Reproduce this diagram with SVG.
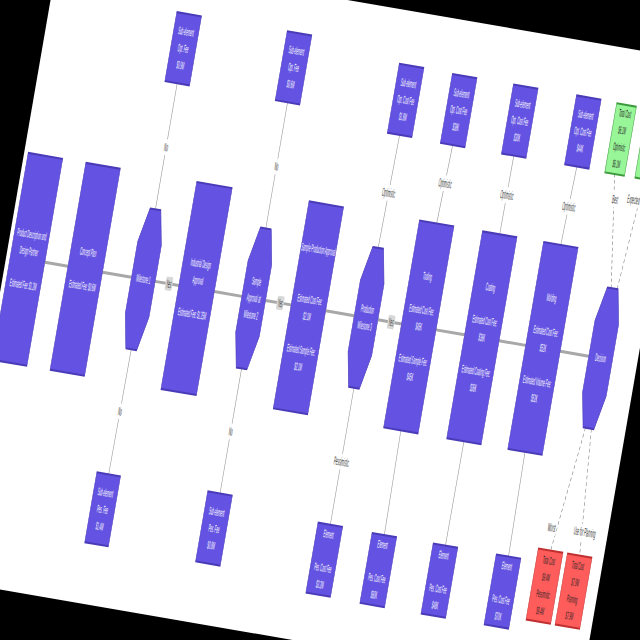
<svg xmlns="http://www.w3.org/2000/svg" width="640" height="640" viewBox="0 0 640 640">
<style>
.p{fill:#6453e2;stroke:#4a3bb8;stroke-width:2}
.g{fill:#98f598;stroke:#3c9a3c;stroke-width:2}
.r{fill:#ff5c5c;stroke:#c03030;stroke-width:2}
text{font-family:"Liberation Sans",Arial,sans-serif;font-size:11px;text-anchor:middle;dominant-baseline:central}
.w{fill:#ffffff}
.k{fill:#222222}
.lt{fill:#333333;font-size:12px}
.lb{fill:#ffffff;opacity:0.9}
.lm{fill:#d8d8d8}
.main{stroke:#a8a8a8;stroke-width:3;fill:none}
.thin{stroke:#9a9a9a;stroke-width:2.4;fill:none}
.dash{stroke:#8a8a8a;stroke-width:2.4;fill:none;stroke-dasharray:4 3}
</style>
<rect width="640" height="640" fill="#000"/>
<g transform="rotate(9.8 320 320)">
<rect width="640" height="640" fill="#fff"/>
<g transform="scale(0.25 1)">
<g id="connectors">
<path class="main" d="M156,310H250M390,310H508M604,310H700M844,310H956M1052,310H1156M1296,310H1412M1508,310H1604M1744,310H1860M2000,310H2108M2248,310H2364"/>
<path class="thin" d="M556,111V239M556,381L552,508M1004,111V239M1004,381V508M1468,124L1460,239M1460,381V520M1684,125L1674,205M1674,415L1680,521M1932,125L1930,205M1930,415L1928,521M2188,125L2178,205M2178,415L2184,521"/>
<path class="dash" d="M2406,239L2342,126M2430,239L2464,126M2400,381L2346,508M2424,381L2464,508"/>
<g id="edge-labels">
<rect class="lm" x="646" y="303" width="28" height="14" rx="4"/><text class="lt" x="660" y="310">Yes</text>
<rect class="lm" x="1098" y="303" width="28" height="14" rx="4"/><text class="lt" x="1112" y="310">Yes</text>
<rect class="lm" x="1548" y="303" width="28" height="14" rx="4"/><text class="lt" x="1562" y="310">Yes</text>
<rect class="lb" x="542" y="168" width="28" height="16"/><text class="lt" x="556" y="176">No</text>
<rect class="lb" x="990" y="168" width="28" height="16"/><text class="lt" x="1004" y="176">No</text>
<rect class="lb" x="540" y="436" width="28" height="16"/><text class="lt" x="554" y="444">No</text>
<rect class="lb" x="990" y="437" width="28" height="16"/><text class="lt" x="1004" y="445">No</text>
<rect class="lb" x="1432" y="175" width="64" height="16"/><text class="lt" x="1464" y="183">Optimistic</text>
<rect class="lb" x="1428" y="448" width="66" height="16"/><text class="lt" x="1461" y="456">Pessimistic</text>
<rect class="lb" x="1648" y="156" width="64" height="16"/><text class="lt" x="1680" y="164">Optimistic</text>
<rect class="lb" x="1900" y="157" width="64" height="16"/><text class="lt" x="1932" y="165">Optimistic</text>
<rect class="lb" x="2152" y="158" width="64" height="16"/><text class="lt" x="2184" y="166">Optimistic</text>
<rect class="lb" x="2344" y="143" width="34" height="16"/><text class="lt" x="2361" y="151">Best</text>
<rect class="lb" x="2406" y="140" width="56" height="16"/><text class="lt" x="2434" y="148">Expected</text>
<rect class="lb" x="2316" y="477" width="38" height="16"/><text class="lt" x="2335" y="485">Worst</text>
<rect class="lb" x="2418" y="476" width="100" height="16"/><text class="lt" x="2468" y="484">Use for Planning</text>
</g>
</g>
<g id="n1"><rect class="p" x="16" y="205" width="140" height="210"/><text class="w" x="86" y="285">Product Description and</text><text class="w" x="86" y="302">Design Partner</text><text class="w" x="86" y="336">Estimated Fee: $1.2M</text></g>
<g id="n2"><rect class="p" x="250" y="205" width="140" height="210"/><text class="w" x="320" y="293">Concept Plan</text><text class="w" x="320" y="327">Estimated Fee: $0.6M</text></g>
<g id="n3"><polygon class="p" points="534,239 578,239 604,274 604,346 578,381 534,381 508,346 508,274"/><text class="w" x="556" y="310">Milestone 1</text></g>
<g id="n4"><rect class="p" x="700" y="205" width="144" height="210"/><text class="w" x="772" y="285">Industrial Design</text><text class="w" x="772" y="302">Approval</text><text class="w" x="772" y="336">Estimated Fee: $1.25M</text></g>
<g id="n5"><polygon class="p" points="982,239 1026,239 1052,274 1052,346 1026,381 982,381 956,346 956,274"/><text class="w" x="1004" y="293">Sample</text><text class="w" x="1004" y="310">Approval at</text><text class="w" x="1004" y="327">Milestone 2</text></g>
<g id="n6"><rect class="p" x="1156" y="205" width="140" height="210"/><text class="w" x="1226" y="251">Sample Production Approval</text><text class="w" x="1226" y="302">Estimated Cost Fee:</text><text class="w" x="1226" y="319">$2.1M</text><text class="w" x="1226" y="353">Estimated Sample Fee:</text><text class="w" x="1226" y="370">$2.1M</text></g>
<g id="n7"><polygon class="p" points="1438,239 1482,239 1508,274 1508,346 1482,381 1438,381 1412,346 1412,274"/><text class="w" x="1460" y="301.5">Production</text><text class="w" x="1460" y="318.5">Milestone 3</text></g>
<g id="n8"><rect class="p" x="1604" y="205" width="140" height="210"/><text class="w" x="1674" y="259">Tooling</text><text class="w" x="1674" y="293">Estimated Cost Fee:</text><text class="w" x="1674" y="310">$45K</text><text class="w" x="1674" y="344">Estimated Sample Fee:</text><text class="w" x="1674" y="361">$45K</text></g>
<g id="n9"><rect class="p" x="1860" y="205" width="140" height="210"/><text class="w" x="1930" y="259">Coating</text><text class="w" x="1930" y="293">Estimated Cost Fee:</text><text class="w" x="1930" y="310">$36K</text><text class="w" x="1930" y="344">Estimated Coating Fee:</text><text class="w" x="1930" y="361">$36K</text></g>
<g id="n10"><rect class="p" x="2108" y="205" width="140" height="210"/><text class="w" x="2178" y="259">Molding</text><text class="w" x="2178" y="293">Estimated Cost Fee:</text><text class="w" x="2178" y="310">$52K</text><text class="w" x="2178" y="344">Estimated Volume Fee:</text><text class="w" x="2178" y="361">$52K</text></g>
<g id="n11"><polygon class="p" points="2390,239 2434,239 2460,274 2460,346 2434,381 2390,381 2364,346 2364,274"/><text class="w" x="2412" y="310">Decision</text></g>
<g id="t1"><rect class="p" x="506" y="41" width="100" height="70"/><text class="w" x="556" y="59">Sub-element</text><text class="w" x="556" y="76">Opt. Fee</text><text class="w" x="556" y="93">$0.9M</text></g>
<g id="t2"><rect class="p" x="954" y="41" width="100" height="70"/><text class="w" x="1004" y="59">Sub-element</text><text class="w" x="1004" y="76">Opt. Fee</text><text class="w" x="1004" y="93">$0.6M</text></g>
<g id="t3"><rect class="p" x="1418" y="54" width="100" height="70"/><text class="w" x="1468" y="72">Sub-element</text><text class="w" x="1468" y="89">Opt. Cost Fee</text><text class="w" x="1468" y="106">$1.8M</text></g>
<g id="t4"><rect class="p" x="1634" y="55" width="100" height="70"/><text class="w" x="1684" y="73">Sub-element</text><text class="w" x="1684" y="90">Opt. Cost Fee</text><text class="w" x="1684" y="107">$38K</text></g>
<g id="t5"><rect class="p" x="1882" y="55" width="100" height="70"/><text class="w" x="1932" y="73">Sub-element</text><text class="w" x="1932" y="90">Opt. Cost Fee</text><text class="w" x="1932" y="107">$30K</text></g>
<g id="t6"><rect class="p" x="2138" y="55" width="100" height="70"/><text class="w" x="2188" y="73">Sub-element</text><text class="w" x="2188" y="90">Opt. Cost Fee</text><text class="w" x="2188" y="107">$44K</text></g>
<g id="g1"><rect class="g" x="2302" y="56" width="80" height="70"/><text class="k" x="2342" y="65">Total Cost</text><text class="k" x="2342" y="82">$6.1M</text><text class="k" x="2342" y="99">Optimistic</text><text class="k" x="2342" y="116">$6.1M</text></g>
<g id="g2"><rect class="g" x="2424" y="56" width="80" height="70"/><text class="k" x="2464" y="65">Total Cost</text><text class="k" x="2464" y="82">$6.8M</text><text class="k" x="2464" y="99">Expected</text><text class="k" x="2464" y="116">$6.8M</text></g>
<g id="b1"><rect class="p" x="504" y="508" width="96" height="71"/><text class="w" x="552" y="527">Sub-element</text><text class="w" x="552" y="544">Pes. Fee</text><text class="w" x="552" y="561">$1.4M</text></g>
<g id="b2"><rect class="p" x="954" y="508" width="100" height="71"/><text class="w" x="1004" y="527">Sub-element</text><text class="w" x="1004" y="544">Pes. Fee</text><text class="w" x="1004" y="561">$0.8M</text></g>
<g id="b3"><rect class="p" x="1410" y="520" width="100" height="71"/><text class="w" x="1460" y="530">Element</text><text class="w" x="1460" y="564">Pes. Cost Fee</text><text class="w" x="1460" y="581">$3.2M</text></g>
<g id="b4"><rect class="p" x="1630" y="521" width="100" height="71"/><text class="w" x="1680" y="531">Element</text><text class="w" x="1680" y="565">Pes. Cost Fee</text><text class="w" x="1680" y="582">$60K</text></g>
<g id="b5"><rect class="p" x="1878" y="521" width="100" height="71"/><text class="w" x="1928" y="531">Element</text><text class="w" x="1928" y="565">Pes. Cost Fee</text><text class="w" x="1928" y="582">$48K</text></g>
<g id="b6"><rect class="p" x="2134" y="521" width="100" height="71"/><text class="w" x="2184" y="531">Element</text><text class="w" x="2184" y="565">Pes. Cost Fee</text><text class="w" x="2184" y="582">$70K</text></g>
<g id="r1"><rect class="r" x="2296" y="508" width="100" height="72"/><text class="k" x="2346" y="518.5">Total Cost</text><text class="k" x="2346" y="535.5">$9.4M</text><text class="k" x="2346" y="552.5">Pessimistic</text><text class="k" x="2346" y="569.5">$9.4M</text></g>
<g id="r2"><rect class="r" x="2414" y="508" width="100" height="72"/><text class="k" x="2464" y="518.5">Total Cost</text><text class="k" x="2464" y="535.5">$7.9M</text><text class="k" x="2464" y="552.5">Planning</text><text class="k" x="2464" y="569.5">$7.9M</text></g>
</g>
</g>
</svg>
